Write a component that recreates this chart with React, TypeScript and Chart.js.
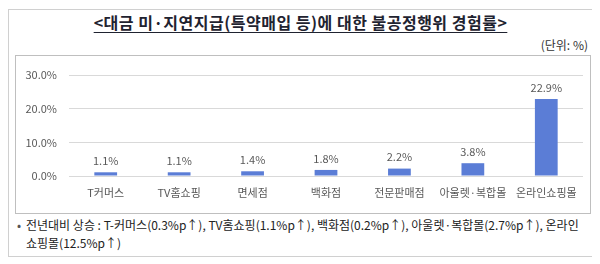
import React, { useEffect, useRef } from "react";
import { Chart, registerables } from "chart.js";

Chart.register(...registerables);

const categories = ["T커머스", "TV홈쇼핑", "면세점", "백화점", "전문판매점", "아울렛·복합몰", "온라인쇼핑몰"];
const values = [1.1, 1.1, 1.4, 1.8, 2.2, 3.8, 22.9];
const yTicks = [0, 10, 20, 30];
const titleText = "<대금 미·지연지급(특약매입 등)에 대한 불공정행위 경험률>";
const unitText = "(단위: %)";
const noteLine1 = "전년대비 상승 : T-커머스(0.3%p↑), TV홈쇼핑(1.1%p↑), 백화점(0.2%p↑), 아울렛·복합몰(2.7%p↑), 온라인";
const noteLine2 = "쇼핑몰(12.5%p↑)";

const FONT = "'Noto Sans CJK KR', 'Noto Sans', sans-serif";

const valueLabels = {
  id: "valueLabels",
  afterDatasetsDraw(chart: any) {
    const ctx = chart.ctx;
    const meta = chart.getDatasetMeta(0);
    ctx.save();
    ctx.font = `11px ${FONT}`;
    ctx.fillStyle = "#595959";
    ctx.textAlign = "center";
    ctx.textBaseline = "bottom";
    meta.data.forEach((bar: any, i: number) => {
      const v = chart.data.datasets[0].data[i];
      ctx.fillText(v.toFixed(1) + "%", bar.x, bar.y - 6);
    });
    ctx.restore();
  },
};

export default function App() {
  const ref = useRef<HTMLCanvasElement>(null);
  useEffect(() => {
    if (!ref.current) return;
    const chart = new Chart(ref.current, {
      type: "bar",
      data: {
        labels: categories,
        datasets: [
          {
            data: values,
            backgroundColor: "#5B7DD6",
            borderWidth: 0,
            categoryPercentage: 1,
            barPercentage: 0.31,
          },
        ],
      },
      options: {
        animation: false,
        responsive: false,
        maintainAspectRatio: false,
        layout: { padding: { top: 19, right: 7, bottom: 0, left: 0 } },
        plugins: { legend: { display: false }, tooltip: { enabled: false } },
        scales: {
          x: {
            grid: { display: false, drawTicks: false },
            border: { display: false },
            ticks: { color: "#595959", font: { size: 11, family: FONT }, padding: 10, maxRotation: 0, autoSkip: false },
            afterFit: (s: any) => { s.height = 37; },
          },
          y: {
            min: 0,
            max: 30,
            grid: { color: "#D9D9D9", drawTicks: false },
            border: { display: false },
            afterBuildTicks: (s: any) => { s.ticks = yTicks.map((v) => ({ value: v })); },
            ticks: {
              color: "#595959",
              font: { size: 11, family: FONT },
              padding: 12,
              callback: (v: any) => Number(v).toFixed(1) + "%",
            },
            afterFit: (s: any) => { s.width = 53; },
          },
        },
      },
      plugins: [valueLabels],
    });
    return () => chart.destroy();
  }, []);

  return (
    <div
      style={{
        position: "relative",
        width: 585,
        height: 248,
        marginTop: 1,
        border: "1px solid #D0D0D0",
        boxSizing: "border-box",
        fontFamily: FONT,
        background: "#fff",
      }}
    >
      <div
        style={{
          position: "absolute",
          left: 0,
          right: 0,
          top: 1,
          textAlign: "center",
          fontSize: 16,
          letterSpacing: 0.5,
          fontWeight: "bold",
          color: "#1F2330",
          lineHeight: "22px",
        }}
      >
        <span style={{ textDecoration: "underline", textUnderlineOffset: 3 }}>{titleText}</span>
      </div>
      <div
        style={{
          position: "absolute",
          right: 4,
          top: 27,
          fontSize: 12,
          color: "#333",
          lineHeight: "16px",
        }}
      >
        {unitText}
      </div>
      <div
        style={{
          position: "absolute",
          left: 6,
          top: 45,
          width: 576,
          height: 159,
          border: "1px solid #BFBFBF",
          boxSizing: "border-box",
        }}
      >
        <canvas ref={ref} width={574} height={157} style={{ display: "block" }} />
      </div>
      <div
        style={{
          position: "absolute",
          left: 8,
          top: 206,
          fontSize: 12,
          color: "#222",
          lineHeight: "18px",
          whiteSpace: "nowrap",
        }}
      >
        <div>
          <span style={{ display: "inline-block", width: 9, color: "#555" }}>•</span>
          {noteLine1}
        </div>
        <div style={{ paddingLeft: 9 }}>{noteLine2}</div>
      </div>
    </div>
  );
}
